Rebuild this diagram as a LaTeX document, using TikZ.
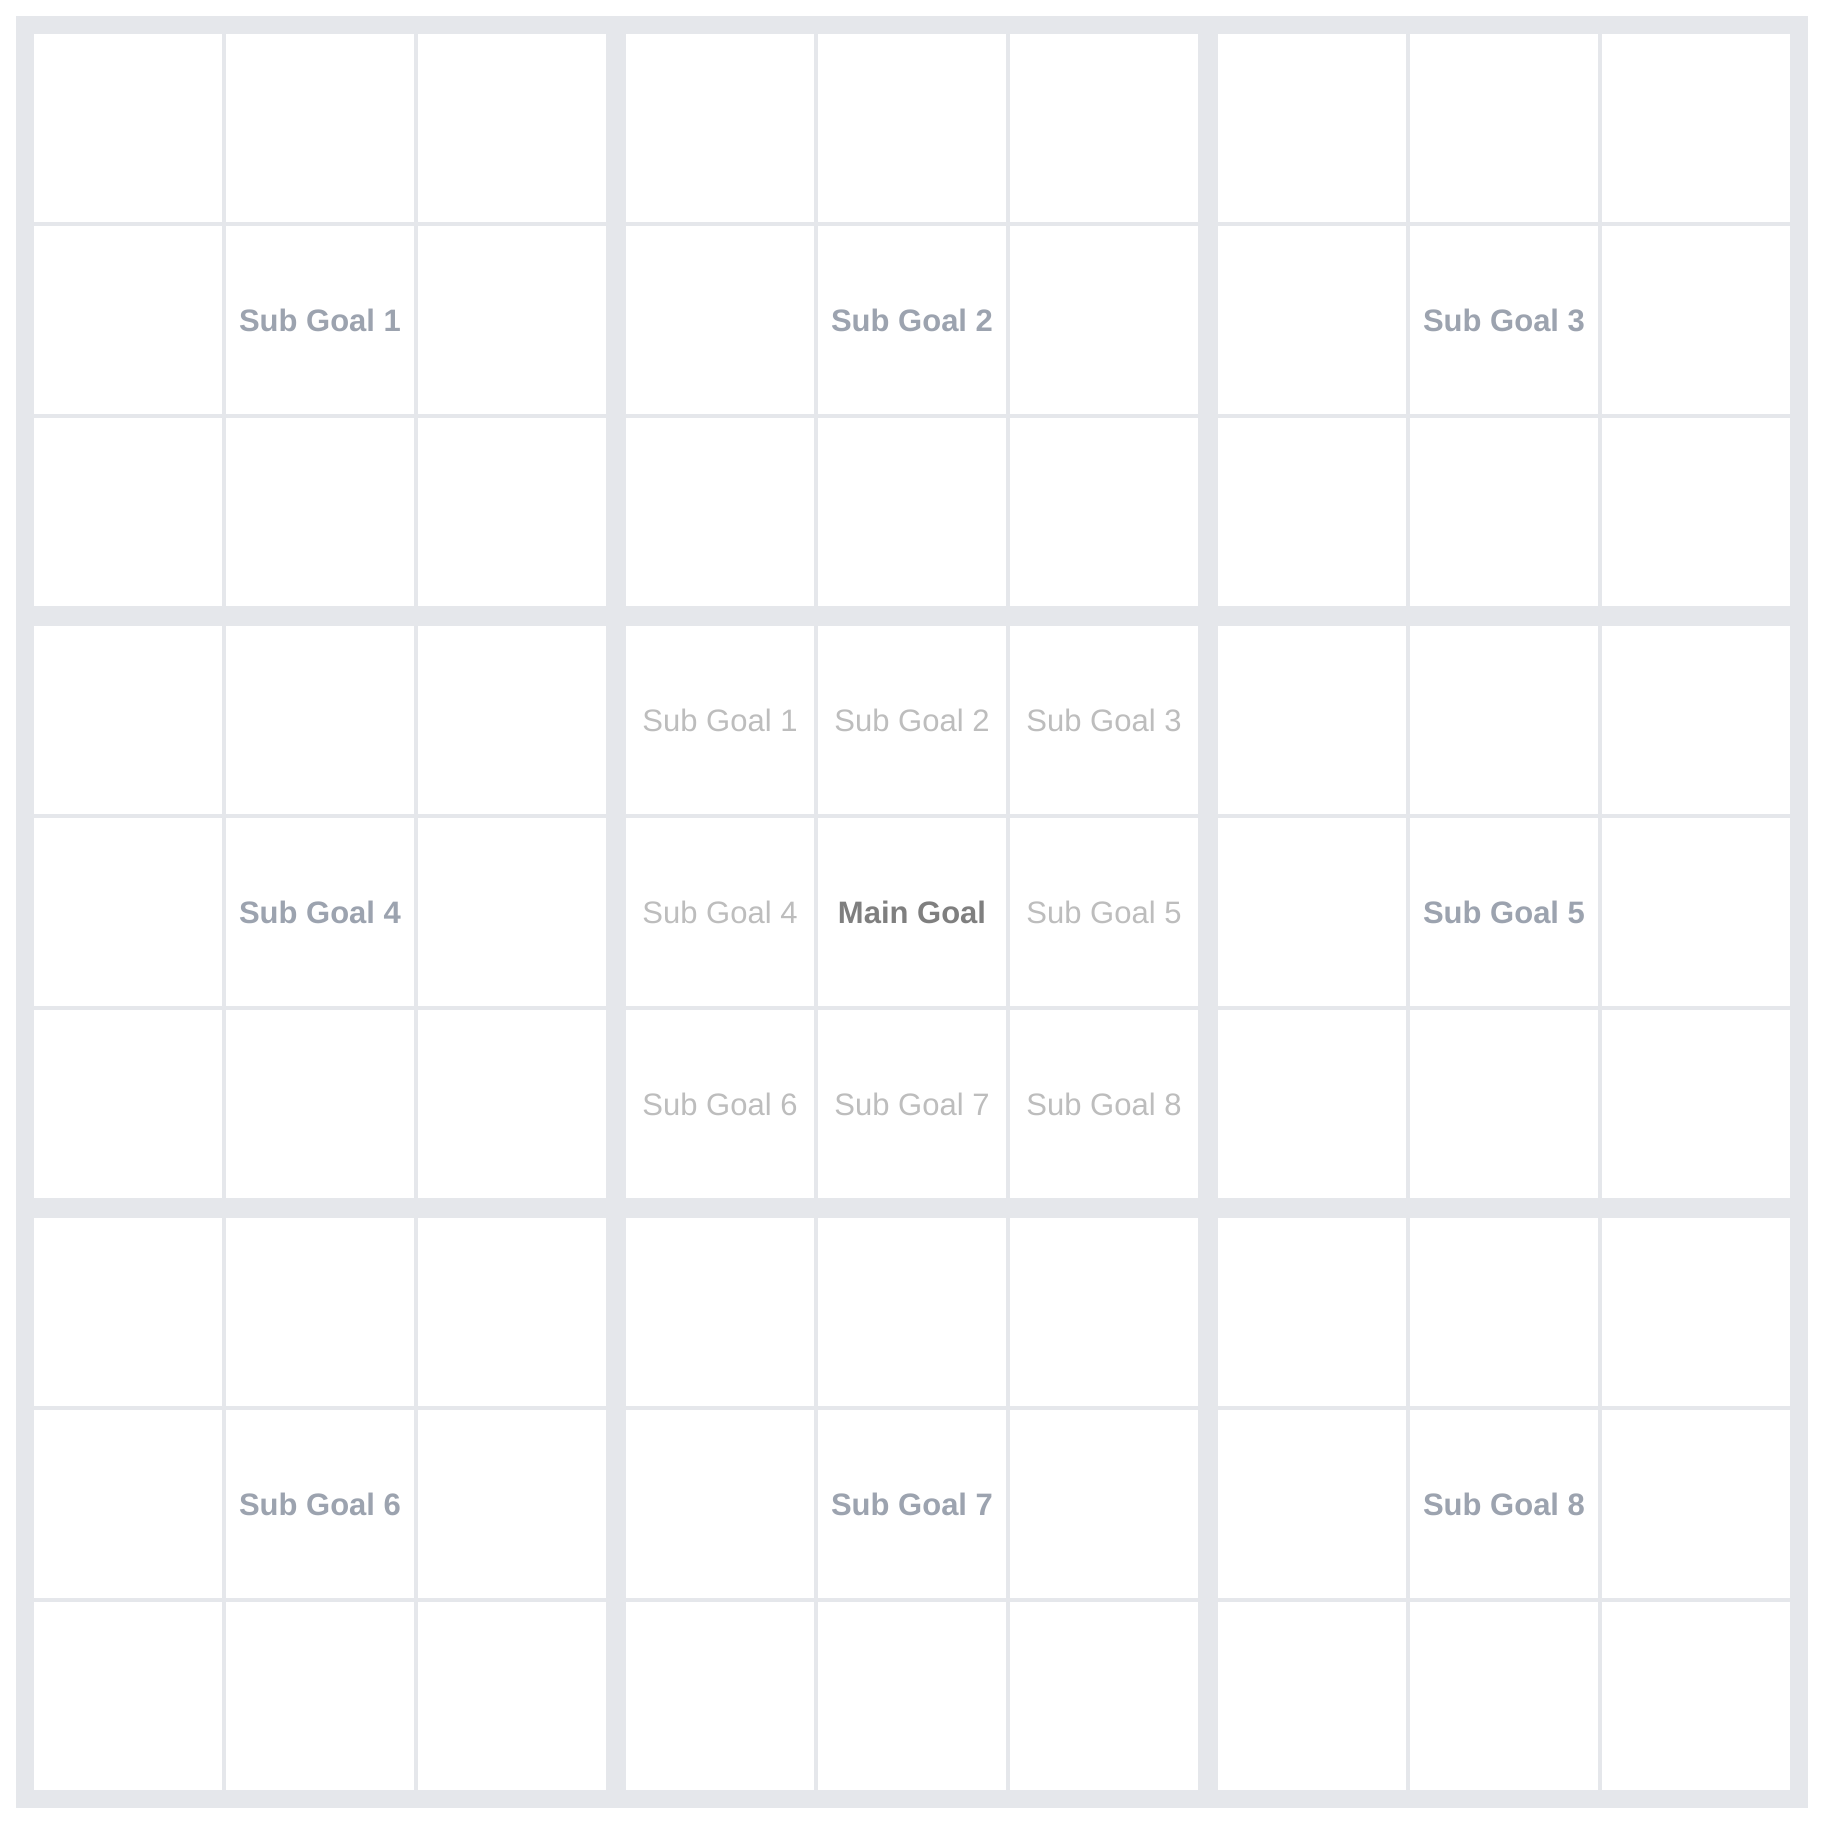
\documentclass[tikz,border=0pt]{standalone}
\usepackage{fontspec}
\setmainfont{Liberation Sans}
\definecolor{gridgray}{HTML}{E5E7EB}
\definecolor{outertext}{HTML}{9CA3AF}
\definecolor{innertext}{HTML}{BDBDBD}
\definecolor{maintext}{HTML}{7F7F7F}
\tikzset{
  cellbox/.style={fill=white, draw=none, minimum width=188pt, minimum height=188pt, inner sep=0pt, anchor=center},
  outerlbl/.style={text=outertext, font=\fontsize{31}{31}\selectfont\bfseries, inner sep=0pt},
  innerlbl/.style={text=innertext, font=\fontsize{31}{31}\selectfont, inner sep=0pt},
  mainlbl/.style={text=maintext, font=\fontsize{31}{31}\selectfont\bfseries, inner sep=0pt}
}
\begin{document}
\begin{tikzpicture}[x=1pt,y=-1pt]
\useasboundingbox (0,0) rectangle (1824,1824);
\fill[gridgray] (16,16) rectangle (1808,1808);
\foreach \bx in {0,1,2}{
  \foreach \by in {0,1,2}{
    \foreach \cx in {0,1,2}{
      \foreach \cy in {0,1,2}{
        \node[cellbox] (c-\bx-\by-\cx-\cy) at ({34+\bx*592+\cx*192+94},{34+\by*592+\cy*192+94}) {};
      }
    }
  }
}
% outer blocks
\node[outerlbl] (o1) at (c-0-0-1-1) {Sub Goal 1};
\node[outerlbl] (o2) at (c-1-0-1-1) {Sub Goal 2};
\node[outerlbl] (o3) at (c-2-0-1-1) {Sub Goal 3};
\node[outerlbl] (o4) at (c-0-1-1-1) {Sub Goal 4};
\node[outerlbl] (o5) at (c-2-1-1-1) {Sub Goal 5};
\node[outerlbl] (o6) at (c-0-2-1-1) {Sub Goal 6};
\node[outerlbl] (o7) at (c-1-2-1-1) {Sub Goal 7};
\node[outerlbl] (o8) at (c-2-2-1-1) {Sub Goal 8};
% center block
\node[innerlbl] (i1) at (c-1-1-0-0) {Sub Goal 1};
\node[innerlbl] (i2) at (c-1-1-1-0) {Sub Goal 2};
\node[innerlbl] (i3) at (c-1-1-2-0) {Sub Goal 3};
\node[innerlbl] (i4) at (c-1-1-0-1) {Sub Goal 4};
\node[mainlbl] (mg) at (c-1-1-1-1) {Main Goal};
\node[innerlbl] (i5) at (c-1-1-2-1) {Sub Goal 5};
\node[innerlbl] (i6) at (c-1-1-0-2) {Sub Goal 6};
\node[innerlbl] (i7) at (c-1-1-1-2) {Sub Goal 7};
\node[innerlbl] (i8) at (c-1-1-2-2) {Sub Goal 8};
\end{tikzpicture}
\end{document}
